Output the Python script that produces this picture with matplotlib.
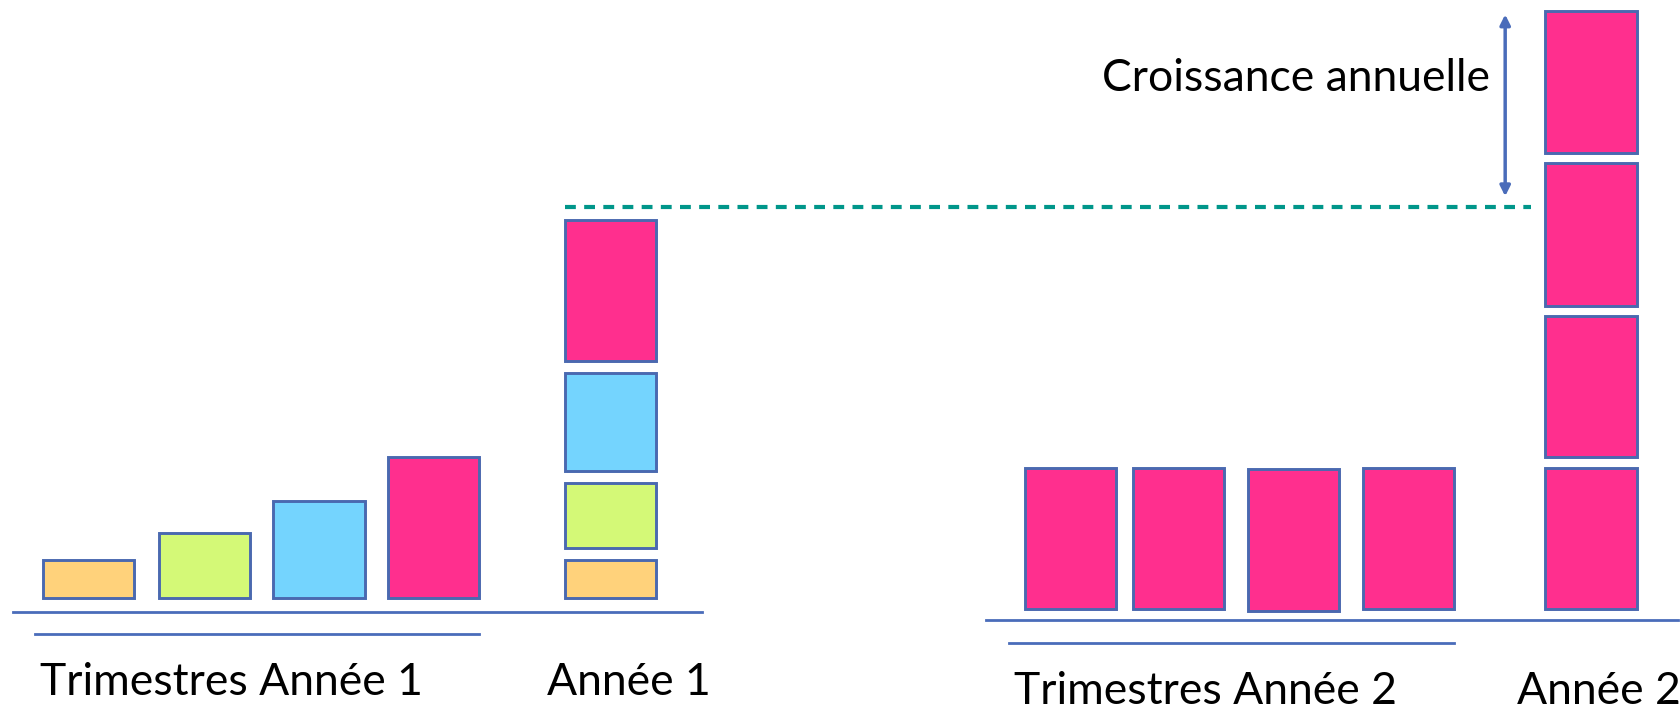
import matplotlib
matplotlib.use("Agg")
import matplotlib.pyplot as plt
import matplotlib.patheffects as pe
import numpy as np

# ---- data ----
quarters_y1 = [36, 61, 91, 132]          # quarterly values, year 1
quarters_y2 = [132, 132, 133, 132]       # quarterly values, year 2
colors_y1 = ["#FFD27B", "#D4F977", "#74D4FE", "#FF2F8E"]
color_y2 = "#FF2F8E"
label_q1 = "Trimestres Année 1"
label_a1 = "Année 1"
label_q2 = "Trimestres Année 2"
label_a2 = "Année 2"
label_growth = "Croissance annuelle"

# ---- layout (units: reference pixels, y upward) ----
W, H = 1568, 663
bar_w = 85
q1_x = [82.5, 190.5, 297.5, 404.5]
s1_x = 569.5
q2_x = [998.5, 1099, 1206.5, 1313.5]
s2_x = 1484
base1 = 105
base2 = 95
q2_offsets = [0, 0, -2, 0]
gap1 = 11
gap2 = 9.5
edge = "#4A69B0"
line_c = "#4A6CBA"
fs = 32

fig = plt.figure(figsize=(16.81, 7.11), dpi=100)
ax = fig.add_axes([0, 0, 1, 1])
ax.set_xlim(0, W)
ax.set_ylim(0, H)
ax.axis("off")

shadow = [pe.SimplePatchShadow(offset=(1.5, -1.5), alpha=0.25, rho=0.6), pe.Normal()]

def bars(x, h, bottom, color):
    b = ax.bar(x, h, width=bar_w, bottom=bottom, color=color,
               edgecolor=edge, linewidth=2.1, zorder=3)
    for p in b:
        p.set_path_effects(shadow)
    return b

# year 1 quarters
bars(q1_x, quarters_y1, base1, colors_y1)
# year 1 stack
bottoms1 = base1 + np.concatenate([[0], np.cumsum(np.array(quarters_y1[:-1]) + gap1)])
bars([s1_x] * 4, quarters_y1, bottoms1, colors_y1)
top1 = bottoms1[-1] + quarters_y1[-1]

# year 2 quarters
bars(q2_x, quarters_y2, base2 + np.array(q2_offsets), color_y2)
bottoms2 = base2 + np.concatenate([[0], np.cumsum(np.array(quarters_y2[:-1]) + gap2)])
bars([s2_x] * 4, quarters_y2, bottoms2, color_y2)
top2 = bottoms2[-1] + quarters_y2[-1]

# base lines
lw_base = 2.0
ax.plot([12, 655], [92, 92], color=line_c, lw=lw_base, zorder=2)
ax.plot([33, 447], [72, 72], color=line_c, lw=lw_base, zorder=2)
ax.plot([920, 1565], [85, 85], color=line_c, lw=lw_base, zorder=2)
ax.plot([941, 1356], [63, 63], color=line_c, lw=lw_base, zorder=2)

# dashed reference line at level of year 1 total
ref_y = top1 + 12
ax.plot([s1_x - bar_w / 2, 1428], [ref_y, ref_y], color="#00968A", lw=3.0,
        dashes=(2.6, 2.0), zorder=2)

# growth arrow
ax.annotate("", xy=(1404, top2 - 3), xytext=(1404, ref_y + 10),
            arrowprops=dict(arrowstyle="<|-|>", color=line_c, lw=2.5,
                            mutation_scale=15, shrinkA=0, shrinkB=0))

# texts
tkw = dict(fontsize=fs, family="Lato", color="black", va="center")
ax.text(37, 27, label_q1, ha="left", **tkw)
ax.text(510, 27, label_a1, ha="left", **tkw)
ax.text(946, 18, label_q2, ha="left", **tkw)
ax.text(1415, 18, label_a2, ha="left", **tkw)
ax.text(1390, 590, label_growth, ha="right", **tkw)

fig.savefig("out.png", dpi=100)
